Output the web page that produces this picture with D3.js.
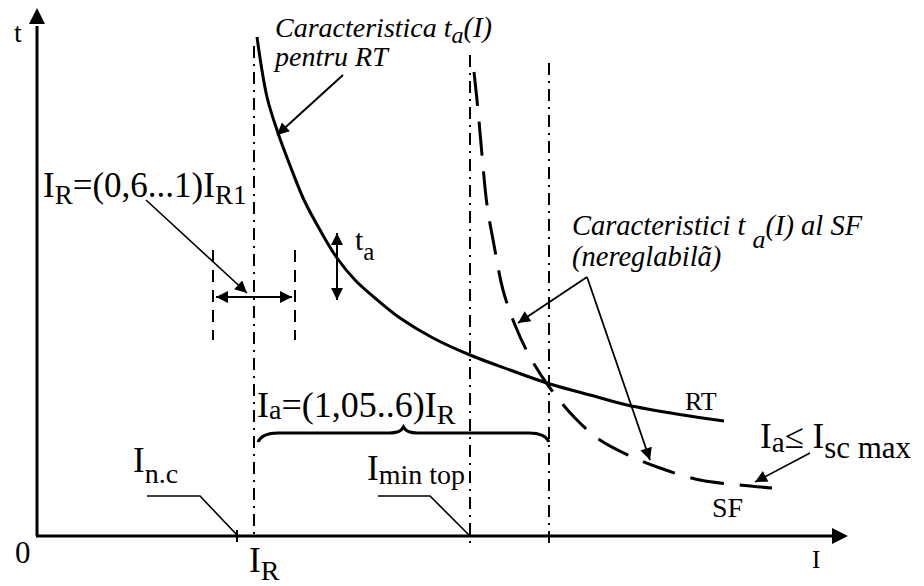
<!DOCTYPE html>
<html>
<head>
<meta charset="utf-8">
<script src="https://cdn.jsdelivr.net/npm/d3@7"></script>
<style>
  body { margin: 0; background: #fff; }
</style>
</head>
<body>
<div class="chart"></div>
<script>
// curve for the adjustable relay (RT): current I vs. time t
const rtI = [220, 230, 241, 254, 267, 283, 300, 318, 338, 363, 396, 433, 473, 513, 553, 590, 646, 687]
const rtT = [499, 439, 403, 368, 336, 306, 278, 256, 238, 218, 198, 181, 166, 152, 141, 131, 121, 115]

// curve for the fuse (SF), dashed
const sfI = [437, 441, 445, 450, 457, 466, 478, 493, 513, 538, 563, 591, 623, 663, 703, 735]
const sfT = [464, 426, 381, 331, 291, 246, 211, 179, 148, 118, 96, 81, 68, 56, 51, 48]

// marked currents on the I axis
const markNames = ['In.c', 'IR', 'Imin', 'Ia']
const markI = [200, 217, 433, 512]
const rangeI = [176, 258]     // I_R adjustment band

const width = 924, height = 586
const serif = "'Liberation Serif', 'Times New Roman', Times, serif"

const x = d3.scaleLinear().domain([0, 811]).range([37, 848])
const y = d3.scaleLinear().domain([0, 528]).range([536, 8])

const svg = d3.select('.chart')
  .append('svg')
  .attr('width', width)
  .attr('height', height)

const defs = svg.append('defs')
defs.append('marker')
  .attr('id', 'arr')
  .attr('viewBox', '0 0 10 10')
  .attr('refX', 10).attr('refY', 5)
  .attr('markerUnits', 'userSpaceOnUse')
  .attr('markerWidth', 15).attr('markerHeight', 12)
  .attr('orient', 'auto-start-reverse')
  .append('path')
  .attr('d', 'M0,0 L10,5 L0,10 Z')
  .attr('fill', '#000')

const mark = (name) => markI[markNames.indexOf(name)]

// axes with arrows
svg.append('line')
  .attr('x1', x(0)).attr('y1', y(0)).attr('x2', x(0)).attr('y2', y(510))
  .attr('stroke', '#000').attr('stroke-width', 3)
svg.append('path')
  .attr('d', `M${x(0)},${y(528)} L${x(0) - 8},${y(512)} L${x(0) + 8},${y(512)} Z`)
  .attr('fill', '#000')
svg.append('line')
  .attr('x1', x(0) - 1).attr('y1', y(0)).attr('x2', x(795)).attr('y2', y(0))
  .attr('stroke', '#000').attr('stroke-width', 3)
svg.append('path')
  .attr('d', `M${x(811)},${y(0)} L${x(795)},${y(0) - 8} L${x(795)},${y(0) + 8} Z`)
  .attr('fill', '#000')

// dash-dot reference verticals
const vLine = (I, t0, t1) => svg.append('line')
  .attr('x1', x(I)).attr('x2', x(I)).attr('y1', y(t0)).attr('y2', y(t1))
  .attr('stroke', '#000').attr('stroke-width', 2)
  .attr('stroke-dasharray', '12,6,2,6')

vLine(mark('IR'), 490, 0)
vLine(mark('Imin'), 481, -11)
vLine(mark('Ia'), 473, -11)

// small tick at I n.c
svg.append('line')
  .attr('x1', x(mark('In.c'))).attr('x2', x(mark('In.c')))
  .attr('y1', y(6)).attr('y2', y(-6))
  .attr('stroke', '#000').attr('stroke-width', 2)

// I_R band: dashed limits + double arrow
rangeI.forEach(I => {
  svg.append('line')
    .attr('x1', x(I)).attr('x2', x(I)).attr('y1', y(286)).attr('y2', y(196))
    .attr('stroke', '#000').attr('stroke-width', 2)
    .attr('stroke-dasharray', '12,8')
})
svg.append('line')
  .attr('x1', x(rangeI[0] + 3)).attr('x2', x(rangeI[1] - 3))
  .attr('y1', y(239)).attr('y2', y(239))
  .attr('stroke', '#000').attr('stroke-width', 2)
  .attr('marker-start', 'url(#arr)').attr('marker-end', 'url(#arr)')

// t_a double arrow
svg.append('line')
  .attr('x1', x(300)).attr('x2', x(300)).attr('y1', y(303)).attr('y2', y(236))
  .attr('stroke', '#000').attr('stroke-width', 2)
  .attr('marker-start', 'url(#arr)').attr('marker-end', 'url(#arr)')

// curves
const line = d3.line()
  .x(d => x(d[0]))
  .y(d => y(d[1]))
  .curve(d3.curveCatmullRom.alpha(0.5))

svg.append('path')
  .attr('d', line(d3.zip(rtI, rtT)))
  .attr('fill', 'none').attr('stroke', '#000').attr('stroke-width', 3)

svg.append('path')
  .attr('d', line(d3.zip(sfI, sfT)))
  .attr('fill', 'none').attr('stroke', '#000').attr('stroke-width', 3)
  .attr('stroke-dasharray', '34,16')

// brace over I_R .. I_a
const bL = mark('IR') + 4, bR = mark('Ia'), bM = (bL + bR) / 2
svg.append('path')
  .attr('d', `M${x(bL)},${y(94)} Q${x(bL + 4)},${y(103)} ${x(bL + 20)},${y(103)}`
    + ` L${x(bM - 14)},${y(103)} Q${x(bM - 3)},${y(103)} ${x(bM)},${y(109)}`
    + ` Q${x(bM + 3)},${y(103)} ${x(bM + 14)},${y(103)}`
    + ` L${x(bR - 20)},${y(103)} Q${x(bR - 4)},${y(103)} ${x(bR)},${y(94)}`)
  .attr('fill', 'none').attr('stroke', '#000').attr('stroke-width', 3)

// leader lines and pointer arrows
const poly = (pts, arrow, w) => svg.append('path')
  .attr('d', d3.line().x(d => x(d[0])).y(d => y(d[1]))(pts))
  .attr('fill', 'none').attr('stroke', '#000').attr('stroke-width', w || 1.6)
  .attr('marker-end', arrow ? 'url(#arr)' : null)

poly([[110, 40], [163, 40], [mark('In.c'), 1]], false)
poly([[341, 40], [393, 40], [mark('Imin') - 1, 1]], false)
poly([[306, 461], [240, 401]], true, 2)
poly([[109, 336], [210, 243]], true, 1.6)
poly([[550, 259], [481, 213]], true, 1.8)
poly([[550, 259], [613, 76]], true, 1.8)
poly([[773, 83], [718, 54]], true, 1.6)

// text helper: segs = [text, drop(px), size]
const label = (I, t, segs, italic) => {
  const tx = svg.append('text')
    .attr('x', x(I)).attr('y', y(t))
    .attr('font-family', serif)
    .attr('font-style', italic ? 'italic' : 'normal')
    .attr('fill', '#000')
  let prev = 0
  segs.forEach(([s, drop, size]) => {
    tx.append('tspan')
      .attr('dy', drop - prev)
      .attr('font-family', serif)
      .attr('font-size', size)
      .text(s)
    prev = drop
  })
  return tx
}

label(-23, 494, [['t', 0, 28]])
label(-22, -27, [['0', 0, 31]])
label(775, -32, [['I', 0, 25]])
label(mark('IR') - 5, -36, [['I', 0, 35], ['R', 8, 28]])
label(96, 64, [['I', 0, 35], ['n.c', 11, 28]])
label(330, 56, [['I', 0, 35], ['min top', 4, 28]])
label(220, 119, [['I', 0, 36], ['a', 2, 28], ['=(1,05..6)I', 0, 36], ['R', 7, 28]])
label(6, 339, [['I', 0, 35], ['R', 7, 27], ['=(0,6...1)I', 0, 35], ['R1', 7, 27]])
label(318, 286, [['t', 0, 30], ['a', 10, 25]])
label(238, 499, [['Caracteristica t', 0, 28], ['a', 6, 24], ['(I)', 0, 28.5]], true)
label(238, 470, [['pentru RT', 0, 28]], true)
label(535, 301, [['Caracteristici t ', 0, 28.5], ['a', 13, 26], ['(I) al SF', 0, 28.5]], true)
label(535, 270, [['(nereglabilã)', 0, 28.5]], true)
label(648, 126, [['RT', 0, 26]])
label(675, 19, [['SF', 0, 28]])
label(723, 88, [['I', 0, 35], ['a', 4, 29], ['≤', 0, 35], [' I', 0, 35], ['sc max', 10, 31]])
</script>
</body>
</html>
